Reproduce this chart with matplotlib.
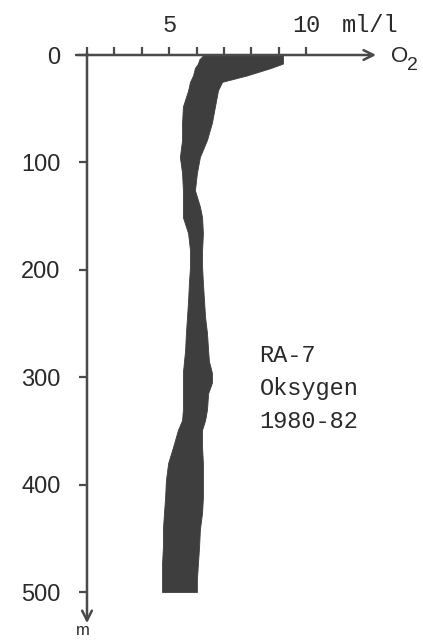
import matplotlib
matplotlib.use("Agg")
import matplotlib.pyplot as plt

# oksygen-profil RA-7, min/maks 1980-82
depth = [0, 4, 8, 12, 19, 25, 33, 48, 63, 79, 95, 110, 126, 141, 151, 166, 182, 197, 212, 228,
         244, 259, 275, 285, 296, 305, 315, 330, 340, 349, 365, 380, 396, 412, 426, 442, 458, 473, 489, 500]
o2_min = [6.25, 6.10, 6.05, 5.94, 5.87, 5.76, 5.69, 5.50, 5.47, 5.47, 5.39, 5.47, 5.50, 5.50, 5.50, 5.69, 5.76, 5.76, 5.72, 5.69,
          5.65, 5.61, 5.58, 5.54, 5.50, 5.50, 5.50, 5.50, 5.47, 5.32, 5.14, 4.96, 4.88, 4.85, 4.81, 4.77, 4.77, 4.74, 4.74, 4.74]
o2_max = [9.15, 9.15, 9.15, 8.72, 7.84, 6.93, 6.78, 6.67, 6.56, 6.38, 6.12, 6.01, 5.94, 6.12, 6.20, 6.23, 6.20, 6.20, 6.23, 6.27,
          6.31, 6.38, 6.42, 6.45, 6.56, 6.56, 6.42, 6.38, 6.31, 6.20, 6.20, 6.23, 6.23, 6.23, 6.20, 6.12, 6.09, 6.05, 6.01, 6.01]
x_ticks = list(range(2, 11))
depth_ticks = [0, 100, 200, 300, 400, 500]

MONO = ["Liberation Mono", "DejaVu Sans Mono"]
SANS = ["Liberation Sans", "DejaVu Sans"]
AX = "#4a4a4a"
BAND = "#3e3e3e"
TXT = "#2a2a2a"

W, H = 423, 642
fig = plt.figure(figsize=(W / 100, H / 100), dpi=100)
fig.patch.set_facecolor("white")
# 2 ml/l -> px 87, 27.4 px per ml/l ; 0 m -> px 55, 1.074 px per m
ax = fig.add_axes([87 / W, 1 - 635 / H, 11 * 27.4 / W, 580 / H])
ax.set_xlim(2, 13)
ax.set_ylim(540, 0)
ax.patch.set_alpha(0)
for s in ax.spines.values():
    s.set_visible(False)

ax.fill_betweenx(depth, o2_min, o2_max, color=BAND, lw=0.6, edgecolor=BAND, zorder=2)

# akser med piler
ax.annotate("", xy=(12.55, 0), xytext=(1.6, 0), annotation_clip=False,
            arrowprops=dict(arrowstyle="->,head_length=0.7,head_width=0.35", lw=1.8, color=AX,
                            shrinkA=0, shrinkB=0), zorder=3)
ax.annotate("", xy=(2, 529), xytext=(2, -2), annotation_clip=False,
            arrowprops=dict(arrowstyle="->,head_length=0.7,head_width=0.35", lw=1.8, color=AX,
                            shrinkA=0, shrinkB=0), zorder=3)

ax.xaxis.tick_top()
ax.set_xticks(x_ticks)
ax.set_xticklabels([])
ax.tick_params(axis="x", direction="out", length=6, width=1.6, color=AX)
ax.set_yticks(depth_ticks)
ax.set_yticklabels([str(d) for d in depth_ticks])
ax.tick_params(axis="y", direction="out", length=6, width=1.6, color=AX, pad=13,
               labelsize=17, labelcolor=TXT)
for lab in ax.get_yticklabels():
    lab.set_family(SANS)

# x-etiketter
ax.text(5, -21.5, "5", family=MONO, fontsize=17, ha="center", va="baseline", color=TXT)
ax.text(10, -21.5, "10", family=MONO, fontsize=17, ha="center", va="baseline", color=TXT)
ax.text(11.3, -21.5, "ml/l", family=MONO, fontsize=17, ha="left", va="baseline", color=TXT)
ax.text(13.1, 1, "O", family=SANS, fontsize=16, ha="left", va="center", color=TXT, clip_on=False)
ax.text(13.68, 10, "2", family=SANS, fontsize=14, ha="left", va="center", color=TXT, clip_on=False)
ax.text(1.85, 536, "m", family=SANS, fontsize=12, ha="center", va="center", color=TXT, clip_on=False)

# stasjonstekst
for i, line in enumerate(["RA-7", "Oksygen", "1980-82"]):
    ax.text(8.3, 286 + i * 30.7, line, family=MONO, fontsize=17, ha="left", va="baseline", color=TXT)

fig.savefig("out.png", dpi=100, facecolor="white")
